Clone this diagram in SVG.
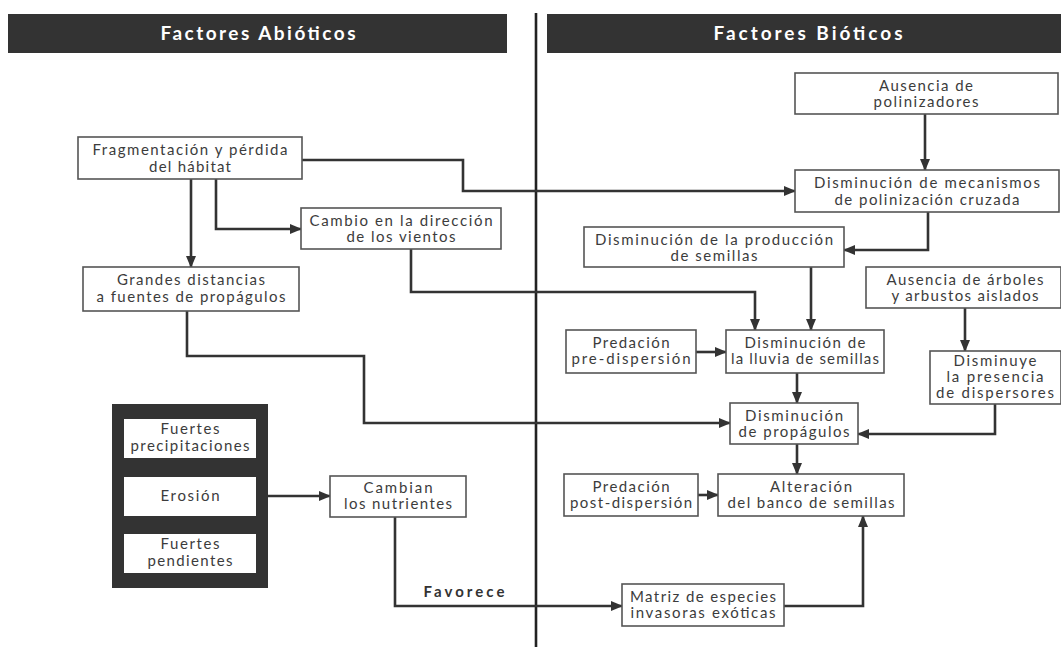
<svg xmlns="http://www.w3.org/2000/svg" width="1061" height="647" viewBox="0 0 1061 647">
<style>
.box{fill:#fff;stroke:#555;stroke-width:1.6}
.t{font-family:Lato,"Liberation Sans",sans-serif;font-size:15px;fill:#3c3c3c;text-anchor:middle}
.h{font-family:Lato,"Liberation Sans",sans-serif;font-size:19px;font-weight:bold;fill:#fff;text-anchor:middle}
.c{fill:none;stroke:#333;stroke-width:2.6;stroke-linejoin:miter}
</style>
<defs>
<marker id="ar" markerUnits="userSpaceOnUse" markerWidth="12" markerHeight="10" refX="11" refY="5" orient="auto">
<path d="M0,0 L12,5 L0,10 z" fill="#333"/>
</marker>
</defs>
<rect width="1061" height="647" fill="#fff"/>
<g id="headers">
<rect x="8" y="14" width="499" height="39" fill="#333"/>
<text class="h" x="258" y="40" textLength="195" lengthAdjust="spacing">Factores Abióticos</text>
<rect x="547" y="14" width="514" height="39" fill="#333"/>
<text class="h" x="808" y="40" textLength="189" lengthAdjust="spacing">Factores Bióticos</text>
</g>
<g id="divider"><line x1="536" y1="13" x2="536" y2="647" stroke="#222" stroke-width="2.6"/></g>
<g id="connectors">
<path class="c" d="M191,179 V267" marker-end="url(#ar)"/>
<path class="c" d="M216,179 V229 H301" marker-end="url(#ar)"/>
<path class="c" d="M302,160 H463 V191 H795" marker-end="url(#ar)"/>
<path class="c" d="M925,114 V170" marker-end="url(#ar)"/>
<path class="c" d="M928,212 V250 H844" marker-end="url(#ar)"/>
<path class="c" d="M411,249 V292 H755 V330" marker-end="url(#ar)"/>
<path class="c" d="M811,267 V330" marker-end="url(#ar)"/>
<path class="c" d="M696,352 H726" marker-end="url(#ar)"/>
<path class="c" d="M965,308 V351" marker-end="url(#ar)"/>
<path class="c" d="M797,373 V403" marker-end="url(#ar)"/>
<path class="c" d="M187,311 V356 H364 V423 H730" marker-end="url(#ar)"/>
<path class="c" d="M995,404 V434 H858" marker-end="url(#ar)"/>
<path class="c" d="M797,444 V474" marker-end="url(#ar)"/>
<path class="c" d="M698,495 H718" marker-end="url(#ar)"/>
<path class="c" d="M268,496 H330" marker-end="url(#ar)" stroke-width="2.2"/>
<path class="c" d="M395,517 V606 H622" marker-end="url(#ar)"/>
<path class="c" d="M784,606 H863 V516" marker-end="url(#ar)"/>
<text x="464" y="597" font-family="Lato,'Liberation Sans',sans-serif" font-size="15" font-weight="bold" fill="#333" text-anchor="middle" textLength="81" lengthAdjust="spacing">Favorece</text>
</g>
<g id="n-aus-pol">
<rect class="box" x="795" y="73" width="263" height="41"/>
<text class="t" x="926" y="91" textLength="94" lengthAdjust="spacing">Ausencia de</text>
<text class="t" x="926" y="107" textLength="105" lengthAdjust="spacing">polinizadores</text>
</g>
<g id="n-frag">
<rect class="box" x="78" y="137" width="224" height="42"/>
<text class="t" x="190" y="155" textLength="195" lengthAdjust="spacing">Fragmentación y pérdida</text>
<text class="t" x="190" y="172" textLength="82" lengthAdjust="spacing">del hábitat</text>
</g>
<g id="n-mec">
<rect class="box" x="795" y="170" width="264" height="42"/>
<text class="t" x="927" y="188" textLength="226" lengthAdjust="spacing">Disminución de mecanismos</text>
<text class="t" x="927" y="205" textLength="185" lengthAdjust="spacing">de polinización cruzada</text>
</g>
<g id="n-cambio">
<rect class="box" x="301" y="208" width="200" height="41"/>
<text class="t" x="401" y="226" textLength="183" lengthAdjust="spacing">Cambio en la dirección</text>
<text class="t" x="401" y="242" textLength="109" lengthAdjust="spacing">de los vientos</text>
</g>
<g id="n-prod">
<rect class="box" x="584" y="227" width="260" height="40"/>
<text class="t" x="714" y="245" textLength="238" lengthAdjust="spacing">Disminución de la producción</text>
<text class="t" x="714" y="261" textLength="87" lengthAdjust="spacing">de semillas</text>
</g>
<g id="n-grandes">
<rect class="box" x="83" y="267" width="216" height="44"/>
<text class="t" x="191" y="285" textLength="148" lengthAdjust="spacing">Grandes distancias</text>
<text class="t" x="191" y="302" textLength="189" lengthAdjust="spacing">a fuentes de propágulos</text>
</g>
<g id="n-arboles">
<rect class="box" x="866" y="267" width="195" height="41"/>
<text class="t" x="965" y="285" textLength="157" lengthAdjust="spacing">Ausencia de árboles</text>
<text class="t" x="965" y="301" textLength="147" lengthAdjust="spacing">y arbustos aislados</text>
</g>
<g id="n-pre">
<rect class="box" x="566" y="330" width="130" height="43"/>
<text class="t" x="631" y="348" textLength="77" lengthAdjust="spacing">Predación</text>
<text class="t" x="631" y="364" textLength="119" lengthAdjust="spacing">pre-dispersión</text>
</g>
<g id="n-lluvia">
<rect class="box" x="726" y="330" width="158" height="43"/>
<text class="t" x="805" y="348" textLength="121" lengthAdjust="spacing">Disminución de</text>
<text class="t" x="805" y="364" textLength="148" lengthAdjust="spacing">la lluvia de semillas</text>
</g>
<g id="n-disminuye">
<rect class="box" x="930" y="351" width="131" height="53"/>
<text class="t" x="995" y="366" textLength="83" lengthAdjust="spacing">Disminuye</text>
<text class="t" x="995" y="382" textLength="97" lengthAdjust="spacing">la presencia</text>
<text class="t" x="995" y="398" textLength="118" lengthAdjust="spacing">de dispersores</text>
</g>
<g id="n-propag">
<rect class="box" x="730" y="403" width="128" height="41"/>
<text class="t" x="794" y="421" textLength="98" lengthAdjust="spacing">Disminución</text>
<text class="t" x="794" y="437" textLength="111" lengthAdjust="spacing">de propágulos</text>
</g>
<g id="n-abioticos">
<rect x="112" y="404" width="156" height="184" fill="#333"/>
<rect x="124" y="419" width="132" height="39" fill="#fff"/>
<text class="t" x="190" y="434" textLength="59" lengthAdjust="spacing">Fuertes</text>
<text class="t" x="190" y="451" textLength="119" lengthAdjust="spacing">precipitaciones</text>
<rect x="124" y="477" width="132" height="39" fill="#fff"/>
<text class="t" x="190" y="501" textLength="59" lengthAdjust="spacing">Erosión</text>
<rect x="124" y="534" width="132" height="39" fill="#fff"/>
<text class="t" x="190" y="549" textLength="59" lengthAdjust="spacing">Fuertes</text>
<text class="t" x="190" y="566" textLength="85" lengthAdjust="spacing">pendientes</text>
</g>
<g id="n-cambian">
<rect class="box" x="330" y="476" width="136" height="41"/>
<text class="t" x="398" y="493" textLength="69" lengthAdjust="spacing">Cambian</text>
<text class="t" x="398" y="509" textLength="108" lengthAdjust="spacing">los nutrientes</text>
</g>
<g id="n-post">
<rect class="box" x="564" y="474" width="134" height="42"/>
<text class="t" x="631" y="492" textLength="77" lengthAdjust="spacing">Predación</text>
<text class="t" x="631" y="508" textLength="122" lengthAdjust="spacing">post-dispersión</text>
</g>
<g id="n-alter">
<rect class="box" x="718" y="474" width="186" height="42"/>
<text class="t" x="811" y="492" textLength="82" lengthAdjust="spacing">Alteración</text>
<text class="t" x="811" y="508" textLength="167" lengthAdjust="spacing">del banco de semillas</text>
</g>
<g id="n-matriz">
<rect class="box" x="622" y="584" width="162" height="42"/>
<text class="t" x="703" y="602" textLength="146" lengthAdjust="spacing">Matriz de especies</text>
<text class="t" x="703" y="618" textLength="145" lengthAdjust="spacing">invasoras exóticas</text>
</g>
</svg>
